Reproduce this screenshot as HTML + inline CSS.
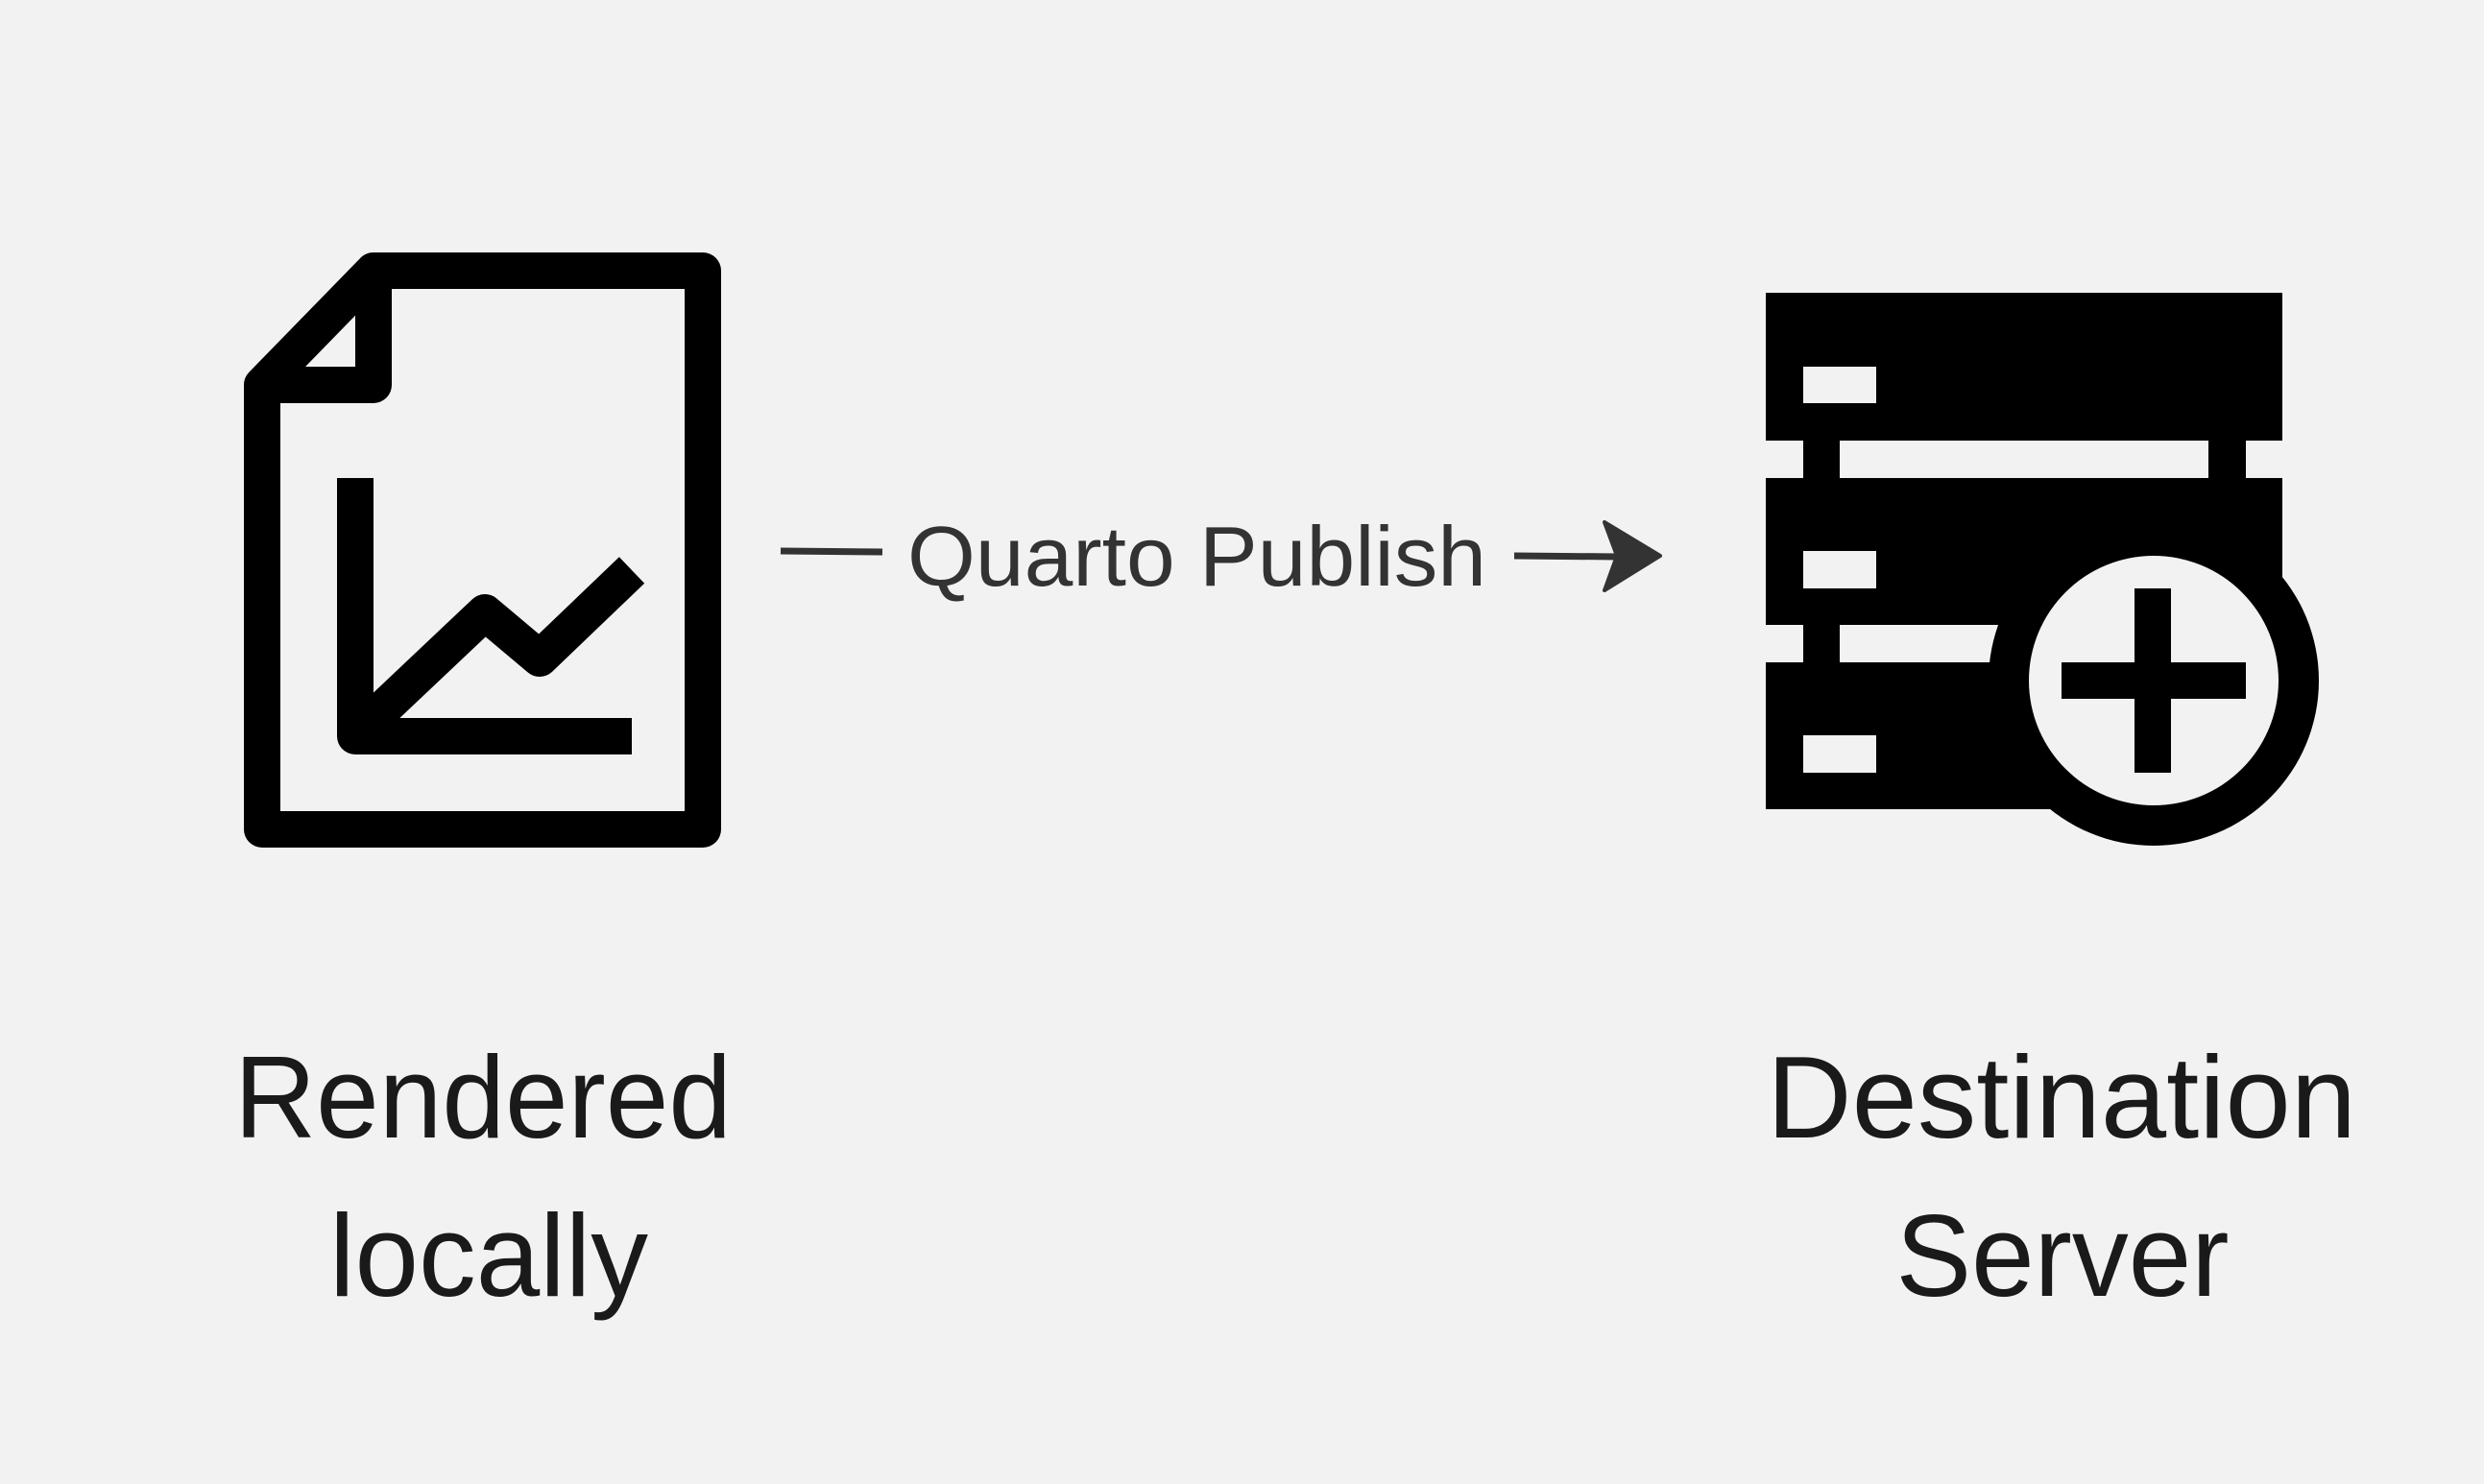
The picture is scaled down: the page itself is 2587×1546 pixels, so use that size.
<!DOCTYPE html>
<html><head><meta charset="utf-8"><style>
html,body{margin:0;padding:0;background:#f2f2f2;}
svg{display:block;}
</style></head><body>
<svg width="2587" height="1546" viewBox="0 0 2587 1546" xmlns="http://www.w3.org/2000/svg">
<rect width="2587" height="1546" fill="#f2f2f2"/>
<!-- document icon -->
<g fill="none" stroke="#000" stroke-width="38" stroke-linejoin="round">
  <path d="M389,282 L732,282 L732,864 L273,864 L273,401 Z"/>
  <path d="M389,282 L389,401 L273,401"/>
  <path d="M370,498 L370,767 L658,767" stroke-linecap="butt"/>
  <path d="M376,760 L505,638 L562,686 L658,594" stroke-linecap="butt"/>
</g>
<!-- server icon -->
<rect x="1839" y="305" width="538" height="538" fill="#000"/>
<rect x="1839" y="459" width="39" height="39" fill="#f2f2f2"/>
<rect x="1916" y="459" width="384" height="39" fill="#f2f2f2"/>
<rect x="2339" y="459" width="38" height="39" fill="#f2f2f2"/>
<rect x="1839" y="651" width="39" height="39" fill="#f2f2f2"/>
<rect x="1916" y="651" width="384" height="39" fill="#f2f2f2"/>
<rect x="1878" y="382" width="76" height="38" fill="#f2f2f2"/>
<rect x="1878" y="574" width="76" height="39" fill="#f2f2f2"/>
<rect x="1878" y="766" width="76" height="39" fill="#f2f2f2"/>
<rect x="2243" y="709" width="140" height="140" fill="#f2f2f2"/>
<circle cx="2243" cy="709" r="172" fill="#000"/>
<circle cx="2243" cy="709" r="130" fill="#f2f2f2"/>
<rect x="2223" y="613" width="38" height="192" fill="#000"/>
<rect x="2147" y="690" width="192" height="38" fill="#000"/>
<!-- connector -->
<line x1="813" y1="574" x2="919" y2="575" stroke="#333" stroke-width="7"/>
<line x1="1577" y1="579" x2="1685" y2="580" stroke="#333" stroke-width="7"/>
<path d="M1729,579 L1671,544 L1684,579 L1671,615 Z" fill="#333" stroke="#333" stroke-width="4" stroke-linejoin="round"/>
<text x="945" y="610" font-family="Liberation Sans, sans-serif" font-size="88" fill="#333" textLength="603" lengthAdjust="spacingAndGlyphs">Quarto Publish</text>
<!-- labels -->
<g font-family="Liberation Sans, sans-serif" font-size="122" fill="#1a1a1a" text-anchor="middle">
  <text x="503" y="1185" textLength="518" lengthAdjust="spacingAndGlyphs">Rendered</text>
  <text x="509" y="1350" textLength="332" lengthAdjust="spacingAndGlyphs">locally</text>
  <text x="2147" y="1185" textLength="614" lengthAdjust="spacingAndGlyphs">Destination</text>
  <text x="2148" y="1350" textLength="347" lengthAdjust="spacingAndGlyphs">Server</text>
</g>
</svg>
</body></html>
